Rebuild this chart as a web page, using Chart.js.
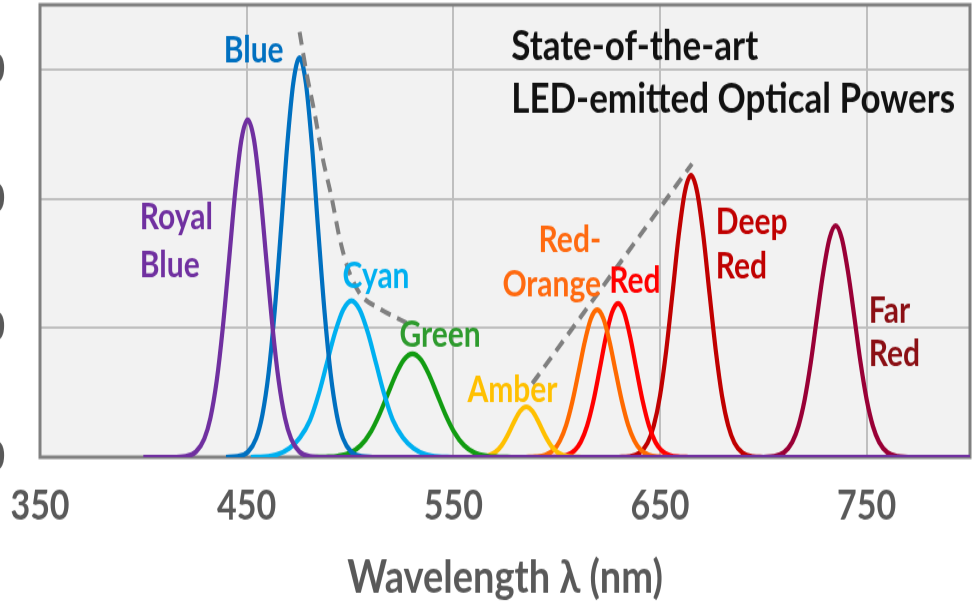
<!DOCTYPE html>
<html>
<head>
<meta charset="utf-8">
<script src="https://cdn.jsdelivr.net/npm/chart.js@4.4.1/dist/chart.umd.min.js"></script>
<style>
  body { margin: 0; background: #fff; }
  #wrap { position: relative; width: 976px; height: 606px; overflow: hidden; background: #fff; }
</style>
</head>
<body>
<div id="wrap"><canvas id="c" width="1036" height="505" style="position:absolute;left:-60px;top:0;width:1036px;height:606px"></canvas></div>
<script>
// wavelength (nm), optical power
var royalBlue = [[400,0],[414,0],[420.5,0.07],[425.5,0.42],[429.5,1.42],[432.5,3.07],[435.5,5.9],[438.5,10.1],[441.5,15.3],[444.5,20.6],[447.5,24.6],[450.5,26.1],[453.5,24.6],[456.5,20.6],[459.5,15.3],[462.5,10.1],[465.5,5.9],[468.5,3.07],[471.5,1.42],[475.5,0.42],[480.5,0.07],[487,0],[800,0]];
var blue = [[440,0],[445.6,0.06],[450.6,0.41],[454.6,1.46],[457.6,3.28],[460.6,6.5],[463.6,11.4],[466.6,17.6],[469.6,24.1],[472.6,29.0],[475.6,30.9],[478.6,29.0],[481.6,24.1],[484.6,17.6],[487.6,11.4],[490.6,6.5],[493.6,3.28],[496.6,1.46],[500.6,0.41],[505.6,0.06],[511,0]];
var cyan = [[452,0],[458.7,0.03],[464.7,0.2],[470.7,0.7],[475.7,1.5],[480.7,2.88],[484.7,4.8],[488.7,7.2],[492.7,9.6],[496.7,11.4],[500.7,12.1],[504.7,11.4],[508.7,9.6],[512.7,7.2],[516.7,4.8],[520.7,2.88],[525.7,1.5],[530.7,0.7],[536.7,0.2],[542.7,0.03],[549,0]];
var green = [[482,0],[488.2,0.02],[494.2,0.09],[500.2,0.35],[505.2,0.91],[510.2,2.0],[514.2,3.29],[518.2,4.85],[522.2,6.41],[526.2,7.57],[530.2,8.0],[534.2,7.57],[538.2,6.41],[542.2,4.85],[546.2,3.29],[550.2,2.0],[555.2,0.91],[560.2,0.35],[566.2,0.09],[572.2,0.02],[578,0]];
var amber = [[558,0],[563.3,0.03],[567.3,0.14],[570.3,0.39],[573.3,0.9],[576.3,1.71],[579.3,2.7],[582.3,3.56],[585.3,3.9],[588.3,3.56],[591.3,2.7],[594.3,1.71],[597.3,0.9],[600.3,0.39],[603.3,0.14],[607.3,0.03],[612,0]];
var redOrange = [[585,0],[589.6,0.03],[594.6,0.17],[598.6,0.58],[601.6,1.28],[604.6,2.49],[607.6,4.31],[610.6,6.59],[613.6,8.94],[616.6,10.73],[619.6,11.4],[622.6,10.73],[625.6,8.94],[628.6,6.59],[631.6,4.31],[634.6,2.49],[637.6,1.28],[640.6,0.58],[644.6,0.17],[649.6,0.03],[654,0]];
var red = [[595,0],[599.7,0.02],[604.7,0.14],[608.7,0.52],[611.7,1.19],[614.7,2.41],[617.7,4.29],[620.7,6.7],[623.7,9.22],[626.7,11.16],[629.7,11.9],[632.7,11.16],[635.7,9.22],[638.7,6.7],[641.7,4.29],[644.7,2.41],[647.7,1.19],[650.7,0.52],[654.7,0.14],[659.7,0.02],[664,0]];
var deepRed = [[630,0],[635,0.05],[640,0.32],[644,1.11],[647,2.44],[650,4.75],[653,8.24],[656,12.6],[659,17.1],[662,20.5],[665,21.8],[668,20.5],[671,17.1],[674,12.6],[677,8.24],[680,4.75],[683,2.44],[686,1.11],[690,0.32],[695,0.05],[700,0]];
var farRed = [[700,0],[705,0.07],[710,0.38],[714,1.18],[717,2.42],[720,4.46],[723,7.36],[726,10.9],[729,14.3],[732,16.9],[735,17.9],[738,16.9],[741,14.3],[744,10.9],[747,7.36],[750,4.46],[753,2.42],[756,1.18],[760,0.38],[765,0.07],[770,0]];
// dashed trend lines
var trendBlue = [[475.6,32.9],[479,29.7],[482.9,26.6],[486.7,23.2],[491.1,20.1],[494.9,17],[498.8,14.7],[504.6,12.7],[514.3,11.5],[527.3,10.4]];
var trendRed = [[588.2,5.7],[665.5,22.7]];

var xTicks = [350, 450, 550, 650, 750];
var yTicks = [0, 10, 20, 30];

var tickColor = '#595959';
var gridColor = '#bfbfbf';

// text labels, anchored in data units
var labels = [
    {text: 'Blue', x: 453.4, y: 30.5, color: '#0070c0', align: 'center', size: 30},
    {text: 'Royal', x: 398.3, y: 17.6, color: '#7030a0', align: 'left', size: 30},
    {text: 'Blue', x: 398.3, y: 13.9, color: '#7030a0', align: 'left', size: 30},
    {text: 'Cyan', x: 496.4, y: 13.1, color: '#00b0f0', align: 'left', size: 30},
    {text: 'Green', x: 523.9, y: 8.5, color: '#2e9b2e', align: 'left', size: 30},
    {text: 'Amber', x: 556.8, y: 4.3, color: '#ffc000', align: 'left', size: 30},
    {text: 'Red-', x: 621.5, y: 15.9, color: '#ff6a10', align: 'right', size: 30},
    {text: 'Orange', x: 621.5, y: 12.4, color: '#ff6a10', align: 'right', size: 30},
    {text: 'Red', x: 625.4, y: 12.7, color: '#ff0000', align: 'left', size: 30},
    {text: 'Deep', x: 677, y: 17.3, color: '#c00000', align: 'left', size: 30},
    {text: 'Red', x: 677, y: 13.8, color: '#c00000', align: 'left', size: 30},
    {text: 'Far', x: 751, y: 10.4, color: '#8b0f14', align: 'left', size: 30},
    {text: 'Red', x: 751, y: 7.1, color: '#8b0f14', align: 'left', size: 30},
    {text: 'State-of-the-art', x: 578, y: 30.7, color: '#111', align: 'left', size: 35},
    {text: 'LED-emitted Optical Powers', x: 578, y: 26.6, color: '#111', align: 'left', size: 35}
];

var plotFrame = {
    id: 'plotFrame',
    beforeDraw: function(chart){
        var a = chart.chartArea, ctx = chart.ctx;
        ctx.save();
        ctx.fillStyle = '#f2f2f2';
        ctx.fillRect(a.left, a.top, a.right - a.left, a.bottom - a.top);
        ctx.restore();
    },
    beforeDatasetsDraw: function(chart){
        var a = chart.chartArea, ctx = chart.ctx;
        ctx.save();
        ctx.strokeStyle = '#808080';
        ctx.lineWidth = 3;
        ctx.strokeRect(a.left, a.top, a.right - a.left, a.bottom - a.top);
        ctx.restore();
    },
    afterDatasetsDraw: function(chart){
        var ctx = chart.ctx, xs = chart.scales.x, ys = chart.scales.y;
        ctx.save();
        ctx.textBaseline = 'alphabetic';
        labels.forEach(function(l){
            ctx.font = 'bold ' + l.size + 'px Lato';
            ctx.fillStyle = l.color;
            ctx.textAlign = l.align;
            ctx.fillText(l.text, xs.getPixelForValue(l.x), ys.getPixelForValue(l.y));
        });
        ctx.restore();
    }
};

function curve(data, color){
    return {
        data: data,
        borderColor: color,
        borderWidth: 4.2,
        pointRadius: 0,
        fill: false,
        cubicInterpolationMode: 'monotone'
    };
}

function trend(data){
    return {
        data: data,
        borderColor: '#808080',
        borderWidth: 4,
        borderDash: [11, 7],
        pointRadius: 0,
        fill: false,
        cubicInterpolationMode: 'monotone'
    };
}

function noPad(s){
    s.paddingTop = 0;
    s.paddingBottom = 0;
    s.paddingLeft = 0;
    s.paddingRight = 0;
}

var ctx = document.getElementById('c').getContext('2d');
var chart = new Chart(ctx, {
    type: 'line',
    data: {
        datasets: [
            curve(royalBlue, '#7030a0'),
            trend(trendBlue),
            trend(trendRed),
            curve(blue, '#0070c0'),
            curve(cyan, '#00b0f0'),
            curve(green, '#129c12'),
            curve(amber, '#ffc000'),
            curve(redOrange, '#ff6a00'),
            curve(red, '#ff0000'),
            curve(deepRed, '#c00000'),
            curve(farRed, '#990036')
        ]
    },
    options: {
        responsive: false,
        animation: false,
        devicePixelRatio: 1,
        layout: { padding: { top: 4, right: 6, bottom: 0, left: 0 } },
        plugins: { legend: { display: false }, tooltip: { enabled: false } },
        scales: {
            x: {
                type: 'linear',
                min: 350,
                max: 800,
                afterBuildTicks: function(s){ s.ticks = xTicks.map(function(v){ return {value: v}; }); },
                afterFit: function(s){ s.height = 124; noPad(s); },
                grid: { color: gridColor, lineWidth: 2, drawTicks: false },
                border: { display: false },
                ticks: { color: tickColor, padding: 21, font: { family: 'Lato', size: 34, weight: 'bold' } },
                title: {
                    display: true,
                    text: 'Wavelength λ (nm)',
                    color: tickColor,
                    padding: { top: 0, bottom: 0 },
                    font: { family: 'Lato', size: 38, weight: 'bold' }
                }
            },
            y: {
                min: 0,
                max: 35,
                afterBuildTicks: function(s){ s.ticks = yTicks.map(function(v){ return {value: v}; }); },
                afterFit: function(s){ s.width = 100; noPad(s); },
                grid: { color: gridColor, lineWidth: 2, drawTicks: false },
                border: { display: false },
                ticks: { color: tickColor, padding: 35, font: { family: 'Lato', size: 34, weight: 'bold' } }
            }
        }
    },
    plugins: [plotFrame]
});
</script>
</body>
</html>
